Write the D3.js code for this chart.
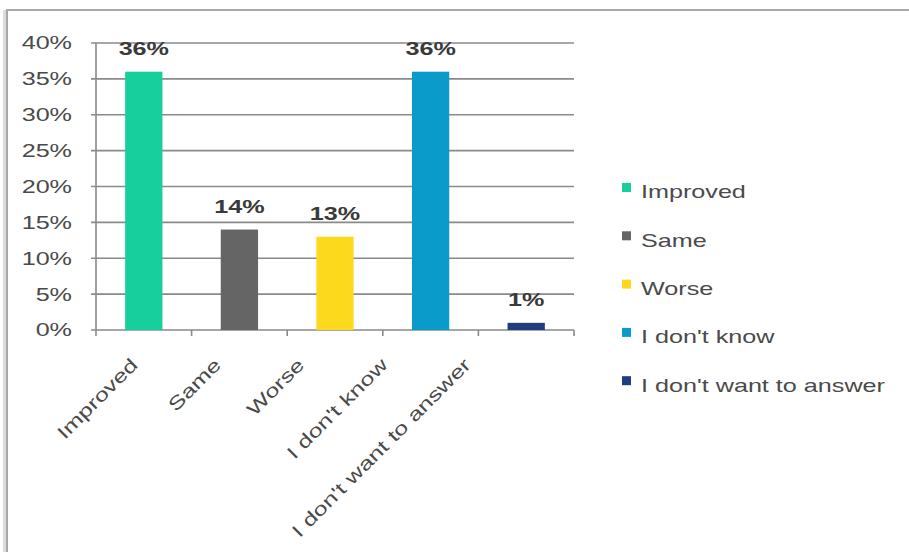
<!DOCTYPE html>
<html>
<head>
<meta charset="utf-8">
<script src="https://cdn.jsdelivr.net/npm/d3@7/dist/d3.min.js"></script>
<style>
  html, body { margin: 0; padding: 0; background: #ffffff; }
  svg { display: block; }
  text { font-family: "Liberation Sans", Arial, sans-serif; }
</style>
</head>
<body>
<svg id="chart" width="909" height="552"></svg>
<script>
// ---- data ----
const categories = ["Improved", "Same", "Worse", "I don't know", "I don't want to answer"];
const values = [0.36, 0.14, 0.13, 0.36, 0.01];
const valueLabels = ["36%", "14%", "13%", "36%", "1%"];
const colors = ["#17cf9c", "#656565", "#fcd91d", "#0a9bca", "#1f3e7e"];
const yTicks = [0, 0.05, 0.10, 0.15, 0.20, 0.25, 0.30, 0.35, 0.40];

const svg = d3.select("#chart");
const SX = 1.36;            // horizontal stretch of the lettering in the reference
const FS = 18.5;

// frame
svg.append("rect").attr("x", 3).attr("y", 10).attr("width", 5).attr("height", 560)
  .attr("fill", "#dcdcdc");
svg.append("rect").attr("x", 7).attr("y", 10).attr("width", 940).attr("height", 600)
  .attr("fill", "none").attr("stroke", "#a8a8a8").attr("stroke-width", 2);

const x = d3.scaleBand().domain(categories).range([96, 574])
  .paddingInner(0.61).paddingOuter(0.305);
const y = d3.scaleLinear().domain([0, 0.4]).range([330, 43]);
// positions where the rotated category labels end (as laid out in the reference)
const labelX = d3.scalePoint().domain(categories).range([139, 472]);

const gridColor = "#8a8a8a";

// gridlines
svg.append("g").selectAll("line").data(yTicks).join("line")
  .attr("x1", 91).attr("x2", 574)
  .attr("y1", d => y(d)).attr("y2", d => y(d))
  .attr("stroke", gridColor).attr("stroke-width", 1.6);

// y axis line
svg.append("line").attr("x1", 96).attr("x2", 96).attr("y1", y(0.4)).attr("y2", y(0))
  .attr("stroke", gridColor).attr("stroke-width", 1.6);

// x ticks at band boundaries
const bounds = categories.map(c => x(c) - x.step() * x.paddingInner() / 2);
bounds.push(x(categories[categories.length - 1]) + x.bandwidth() + x.step() * x.paddingInner() / 2);
svg.append("g").selectAll("line").data(bounds).join("line")
  .attr("x1", d => d).attr("x2", d => d).attr("y1", y(0)).attr("y2", y(0) + 6)
  .attr("stroke", gridColor).attr("stroke-width", 1.6);

// y tick labels
svg.append("g").selectAll("text").data(yTicks).join("text")
  .attr("transform", d => `translate(72,${y(d)}) scale(${SX},1)`)
  .attr("dy", "0.35em")
  .attr("text-anchor", "end")
  .attr("font-size", FS)
  .attr("fill", "#4a4a4a")
  .text(d3.format(".0%"));

// bars
svg.append("g").selectAll("rect").data(categories).join("rect")
  .attr("x", d => x(d))
  .attr("width", x.bandwidth())
  .attr("y", (d, i) => y(values[i]))
  .attr("height", (d, i) => y(0) - y(values[i]))
  .attr("fill", (d, i) => colors[i]);

// value labels
svg.append("g").selectAll("text").data(categories).join("text")
  .attr("transform", (d, i) => `translate(${x(d) + x.bandwidth() / 2},${y(values[i]) - 17}) scale(${SX},1)`)
  .attr("text-anchor", "middle")
  .attr("font-size", FS)
  .attr("font-weight", "bold")
  .attr("fill", "#3a3a3a")
  .text((d, i) => valueLabels[i]);

// category labels (rotated)
svg.append("g").selectAll("text").data(categories).join("text")
  .attr("transform", d => `translate(${labelX(d)},366) rotate(-45) scale(${SX},1)`)
  .attr("text-anchor", "end")
  .attr("font-size", FS)
  .attr("fill", "#4a4a4a")
  .text(d => d);

// legend
const legend = svg.append("g").selectAll("g").data(categories).join("g")
  .attr("transform", (d, i) => `translate(622,${192 + i * 48.3})`);
legend.append("rect").attr("x", 0).attr("y", -9).attr("width", 9).attr("height", 9)
  .attr("fill", (d, i) => colors[i]);
legend.append("text")
  .attr("transform", `translate(19,0) scale(${SX},1)`)
  .attr("dy", "0.35em")
  .attr("font-size", FS)
  .attr("fill", "#4a4a4a")
  .text(d => d);
</script>
</body>
</html>
